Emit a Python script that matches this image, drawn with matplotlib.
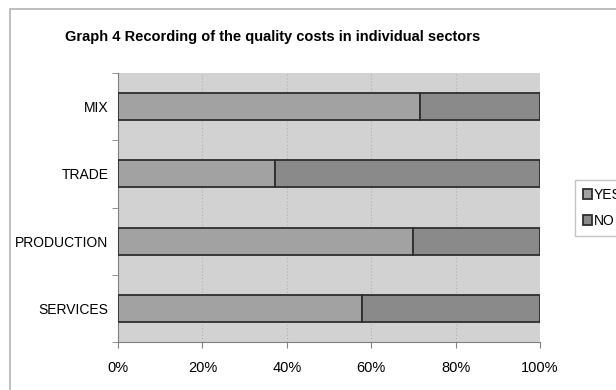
import numpy as np
import matplotlib
matplotlib.use("Agg")
import matplotlib.pyplot as plt
from matplotlib.patches import Rectangle
from matplotlib.ticker import FixedLocator, NullFormatter

plt.rcParams['font.family'] = ['Liberation Sans', 'DejaVu Sans']

# sectors bottom -> top, share answering YES / NO (percent)
sectors = ['SERVICES', 'PRODUCTION', 'TRADE', 'MIX']
yes = np.array([57.9, 70.0, 37.3, 71.6])
no = 100 - yes
series = ['YES', 'NO']

fig = plt.figure(figsize=(6.16, 3.9), dpi=100)
fig.patch.set_facecolor('white')

# outer chart frame (runs off the right and bottom edge)
fig.patches.append(Rectangle((10/616, -0.1), 1.0, 1 - 9/390 + 0.1,
                             transform=fig.transFigure, fill=False,
                             edgecolor='#b4b4b4', linewidth=1.2))

ax = fig.add_axes([118/616, 1 - 342/390, 422/616, 269/390])
ax.set_facecolor('#d2d2d2')

y = np.arange(len(sectors))
ax.barh(y, yes, height=0.4, color='#a2a2a2', edgecolor='#2e2e2e',
        linewidth=1.3, label=series[0], zorder=3)
ax.barh(y, no, left=yes, height=0.4, color='#8a8a8a', edgecolor='#2e2e2e',
        linewidth=1.3, label=series[1], zorder=3)

ax.set_xlim(0, 100)
ax.set_ylim(-0.5, len(sectors) - 0.5)
ax.set_xticks(np.arange(0, 101, 20))
ax.set_xticklabels([f'{v}%' for v in range(0, 101, 20)])
ax.xaxis.grid(True, color='#b0b0b0', linestyle=(0, (1, 2)), linewidth=0.8, zorder=0)

ax.set_yticks(y)
ax.set_yticklabels(sectors)
ax.yaxis.set_minor_locator(FixedLocator(np.arange(-0.5, len(sectors), 1)))
ax.yaxis.set_minor_formatter(NullFormatter())
ax.tick_params(axis='y', which='major', length=0, pad=7, labelsize=10)
ax.tick_params(axis='y', which='minor', length=4, color='#808080')
ax.tick_params(axis='x', length=4, color='#808080', pad=10, labelsize=10.5)

for side in ['top', 'right']:
    ax.spines[side].set_visible(False)
ax.spines['left'].set_color('#808080')
ax.spines['bottom'].set_color('#808080')

fig.text(273/616, 1 - 37/390, 'Graph 4 Recording of the quality costs in individual sectors',
         ha='center', va='center', fontsize=10.5, fontweight='bold')

leg = fig.legend(loc='upper left', bbox_to_anchor=(575/616, 1 - 180/390),
                 frameon=True, fancybox=False, edgecolor='#b4b4b4',
                 fontsize=10, handlelength=0.7, handleheight=0.7,
                 handletextpad=0.1, borderpad=0.55, labelspacing=0.9,
                 borderaxespad=0)
leg.get_frame().set_linewidth(1.0)

fig.savefig('out.png', dpi=100)
